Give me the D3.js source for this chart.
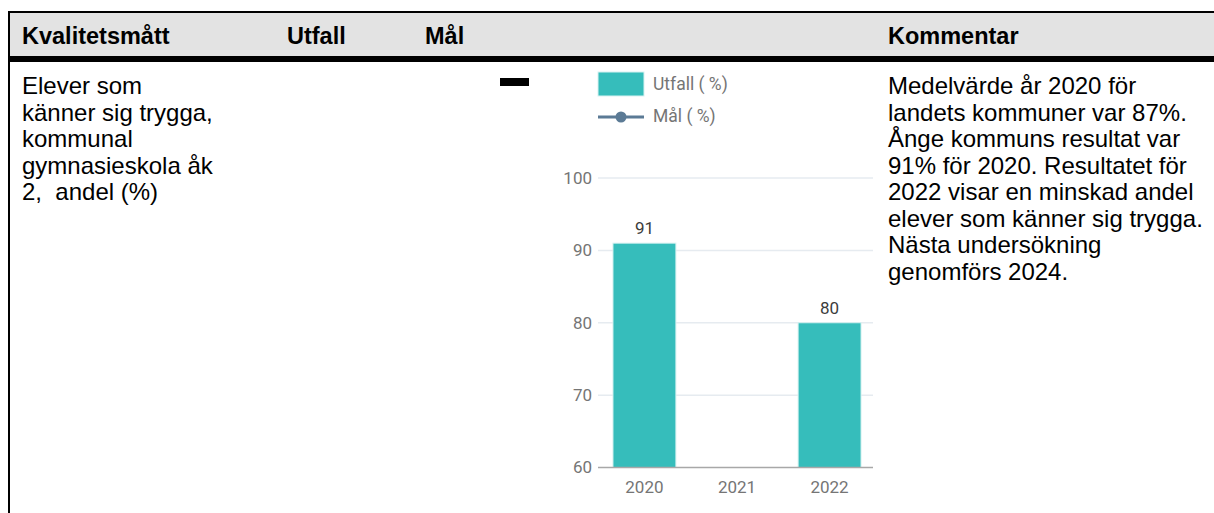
<!DOCTYPE html>
<html>
<head>
<meta charset="utf-8">
<script src="https://cdn.jsdelivr.net/npm/d3@7"></script>
<style>
  html, body { margin: 0; padding: 0; background: #fff; }
  svg { display: block; }
</style>
</head>
<body>
<svg id="chart" width="1214" height="513"></svg>
<script>
// ---- data ----
const headers = ["Kvalitetsmått", "Utfall", "Mål", "Kommentar"];
const measureLines = ["Elever som", "känner sig trygga,", "kommunal", "gymnasieskola åk", "2,  andel (%)"];
const commentLines = [
  "Medelvärde år 2020 för",
  "landets kommuner var 87%.",
  "Ånge kommuns resultat var",
  "91% för 2020. Resultatet för",
  "2022 visar en minskad andel",
  "elever som känner sig trygga.",
  "Nästa undersökning",
  "genomförs 2024."
];
const years = ["2020", "2021", "2022"];
const utfallValues = [91, null, 80];
const malValues = [null, null, null];
const yTicks = [60, 70, 80, 90, 100];
const legendLabels = ["Utfall ( %)", "Mål ( %)"];

// ---- layout ----
const svg = d3.select("#chart");
const tableFont = "Arial, 'Liberation Sans', sans-serif";
const chartFont = "Roboto, 'Noto Sans', sans-serif";

// header band
svg.append("rect").attr("x", 9).attr("y", 12).attr("width", 1214 - 9).attr("height", 45).attr("fill", "#e3e3e3");
svg.append("line").attr("x1", 8).attr("x2", 1214).attr("y1", 12).attr("y2", 12).attr("stroke", "#000").attr("stroke-width", 2);
svg.append("line").attr("x1", 8).attr("x2", 1214).attr("y1", 59).attr("y2", 59).attr("stroke", "#000").attr("stroke-width", 6);
svg.append("line").attr("x1", 9).attr("x2", 9).attr("y1", 11).attr("y2", 513).attr("stroke", "#000").attr("stroke-width", 2);

const headerX = [22, 287, 425, 888];
svg.selectAll("text.hdr").data(headers).enter().append("text")
  .attr("class", "hdr")
  .attr("x", (d, i) => headerX[i]).attr("y", 44)
  .attr("font-family", tableFont).attr("font-weight", "bold").attr("font-size", 23.5)
  .attr("fill", "#000").text(d => d);

const lineH = 26.5;
svg.selectAll("text.meas").data(measureLines).enter().append("text")
  .attr("class", "meas")
  .attr("x", 22).attr("y", (d, i) => 94 + i * lineH)
  .attr("font-family", tableFont).attr("font-size", 24).attr("fill", "#000")
  .attr("xml:space", "preserve").style("white-space", "pre")
  .text(d => d);

svg.selectAll("text.comm").data(commentLines).enter().append("text")
  .attr("class", "comm")
  .attr("x", 888).attr("y", (d, i) => 94 + i * lineH)
  .attr("font-family", tableFont).attr("font-size", 24).attr("fill", "#000")
  .text(d => d);

// Mål column dash
svg.append("rect").attr("x", 500).attr("y", 78).attr("width", 29).attr("height", 8).attr("fill", "#000");

// ---- chart ----
const x = d3.scaleBand().domain(years).range([600, 874]).paddingInner(0.32).paddingOuter(0.14);
const y = d3.scaleLinear().domain([60, 100]).range([467.5, 178]);

// grid
svg.append("g").selectAll("line").data(yTicks.filter(t => t > 60)).enter().append("line")
  .attr("x1", 598).attr("x2", 873)
  .attr("y1", d => y(d)).attr("y2", d => y(d))
  .attr("stroke", "#e6ebf0").attr("stroke-width", 1.5);

// y labels
svg.append("g").selectAll("text").data(yTicks).enter().append("text")
  .attr("x", 592).attr("y", d => y(d)).attr("dy", "0.35em")
  .attr("text-anchor", "end")
  .attr("font-family", chartFont).attr("font-size", 17).attr("fill", "#757575")
  .text(d => d);

// bars
const barData = years.map((yr, i) => ({ yr, v: utfallValues[i] })).filter(d => d.v != null);
svg.append("g").selectAll("rect").data(barData).enter().append("rect")
  .attr("x", d => x(d.yr)).attr("width", x.bandwidth())
  .attr("y", d => y(d.v)).attr("height", d => y(60) - y(d.v))
  .attr("fill", "#36bdbb").attr("stroke", "#d8f2f1").attr("stroke-width", 1);

// value labels
svg.append("g").selectAll("text").data(barData).enter().append("text")
  .attr("x", d => x(d.yr) + x.bandwidth() / 2).attr("y", d => y(d.v) - 9)
  .attr("text-anchor", "middle")
  .attr("font-family", chartFont).attr("font-size", 17).attr("fill", "#3c3c3c")
  .text(d => d.v);

// Mål line (no values)
const malData = years.map((yr, i) => ({ yr, v: malValues[i] })).filter(d => d.v != null);
svg.append("g").selectAll("circle").data(malData).enter().append("circle")
  .attr("cx", d => x(d.yr) + x.bandwidth() / 2).attr("cy", d => y(d.v)).attr("r", 5).attr("fill", "#5b7a95");

// x axis baseline
svg.append("line").attr("x1", 598).attr("x2", 873).attr("y1", y(60)).attr("y2", y(60))
  .attr("stroke", "#a8a8a8").attr("stroke-width", 1.5);

// x labels
svg.append("g").selectAll("text").data(years).enter().append("text")
  .attr("x", d => x(d) + x.bandwidth() / 2).attr("y", 493)
  .attr("text-anchor", "middle")
  .attr("font-family", chartFont).attr("font-size", 17).attr("fill", "#757575")
  .text(d => d);

// legend
const lg = svg.append("g");
lg.append("rect").attr("x", 598).attr("y", 72).attr("width", 46).attr("height", 24)
  .attr("fill", "#36bdbb").attr("stroke", "#d8f2f1").attr("stroke-width", 1);
lg.append("line").attr("x1", 598).attr("x2", 644).attr("y1", 117).attr("y2", 117)
  .attr("stroke", "#5b7a95").attr("stroke-width", 3);
lg.append("circle").attr("cx", 621).attr("cy", 117).attr("r", 5.5).attr("fill", "#5b7a95");
lg.selectAll("text").data(legendLabels).enter().append("text")
  .attr("x", 653).attr("y", (d, i) => 84 + i * 32).attr("dy", "0.35em")
  .attr("font-family", chartFont).attr("font-size", 17.5).attr("fill", "#757575")
  .text(d => d);
</script>
</body>
</html>
